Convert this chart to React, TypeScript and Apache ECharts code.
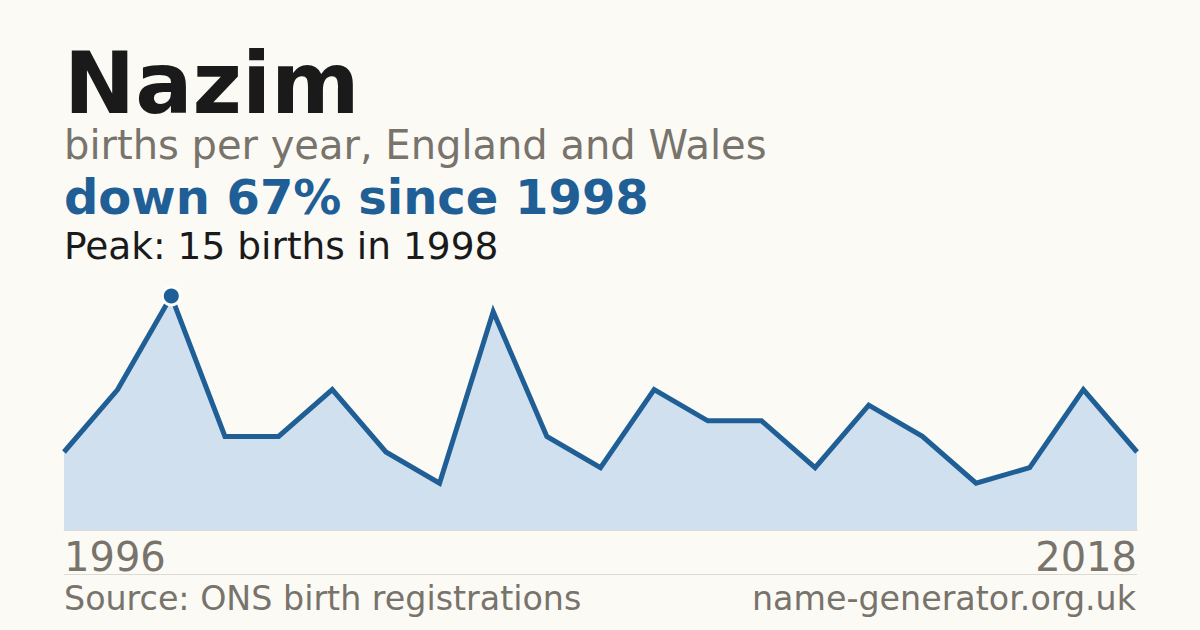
import React, { useEffect, useRef } from "react";
import * as echarts from "echarts";

// 21 registered years (years with too few births are not published)
const years = [
  "1996", "1997", "1998", "1999", "2000", "2001", "2002", "2003", "2004", "2005",
  "2006", "2007", "2008", "2009", "2010", "2011", "2012", "2013", "2014", "2016",
  "2018",
];
const births = [5, 9, 15, 6, 6, 9, 5, 3, 14, 6, 4, 9, 7, 7, 4, 8, 6, 3, 4, 9, 5];
const yTicks = [0, 15];

const FONT = "'DejaVu Sans', sans-serif";
const BLUE = "#1f5f96";
const GREY = "#78736b";
const INK = "#1a1a1a";

const App = () => {
  const chartRef = useRef<HTMLDivElement>(null);

  useEffect(() => {
    const chart = echarts.init(chartRef.current, null, { renderer: "svg" });

    const peak = Math.max(...births);
    const peakIdx = births.indexOf(peak);
    const last = births.length - 1;

    chart.setOption({
      animation: false,
      backgroundColor: "#fbfaf5",
      grid: { left: 64, right: 63, top: 296, bottom: 100 },
      xAxis: {
        type: "category",
        data: years,
        boundaryGap: false,
        axisLine: { show: true, lineStyle: { color: "#dcdad3", width: 1 } },
        axisTick: { show: false },
        axisLabel: {
          interval: (i: number) => i === 0 || i === last,
          fontFamily: FONT,
          fontSize: 40,
          color: GREY,
          margin: 7,
          alignMinLabel: "left",
          alignMaxLabel: "right",
        },
      },
      yAxis: {
        type: "value",
        min: yTicks[0],
        max: yTicks[1],
        show: false,
      },
      series: [
        {
          type: "line",
          data: births,
          showSymbol: false,
          clip: false,
          lineStyle: { color: BLUE, width: 5, join: "miter" },
          areaStyle: { color: "#d0e0ef", opacity: 1 },
          z: 2,
        },
        {
          type: "scatter",
          data: [[peakIdx, peak]],
          symbol: "circle",
          symbolSize: 18,
          clip: false,
          itemStyle: { color: BLUE, borderColor: "#ffffff", borderWidth: 3, opacity: 1 },
          z: 3,
        },
      ],
      graphic: [
        {
          type: "text",
          left: 64,
          top: 41,
          style: {
            text: "Nazim",
            font: `bold 85px ${FONT}`,
            fill: INK,
          },
        },
        {
          type: "text",
          left: 64,
          top: 125,
          style: {
            text: "births per year, England and Wales",
            font: `40px ${FONT}`,
            fill: GREY,
          },
        },
        {
          type: "text",
          left: 64,
          top: 173,
          style: {
            text: "down 67% since 1998",
            font: `bold 48px ${FONT}`,
            fill: BLUE,
          },
        },
        {
          type: "text",
          left: 64,
          top: 227,
          style: {
            text: "Peak: 15 births in 1998",
            font: `37.5px ${FONT}`,
            fill: INK,
          },
        },
        {
          type: "line",
          shape: { x1: 64, y1: 574.5, x2: 1137, y2: 574.5 },
          style: { stroke: "#dcdad3", lineWidth: 1 },
        },
        {
          type: "text",
          left: 64,
          top: 582,
          style: {
            text: "Source: ONS birth registrations",
            font: `33.3px ${FONT}`,
            fill: GREY,
          },
        },
        {
          type: "text",
          right: 64,
          top: 582,
          style: {
            text: "name-generator.org.uk",
            font: `33.3px ${FONT}`,
            fill: GREY,
            textAlign: "right",
          },
        },
      ],
    });

    return () => chart.dispose();
  }, []);

  return (
    <div
      ref={chartRef}
      style={{ position: "fixed", left: 0, top: 0, width: "1200px", height: "630px" }}
    />
  );
};

export default App;
